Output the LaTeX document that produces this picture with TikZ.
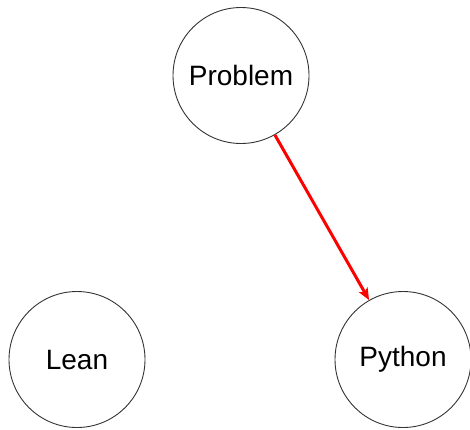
\documentclass[tikz,border=0pt]{standalone}
\usepackage{fontspec}
\setmainfont{Liberation Sans}
\usetikzlibrary{arrows.meta}
\begin{document}
\begin{tikzpicture}[x=1pt,y=-1pt,
  state/.style={circle,draw=black!80,line width=0.9pt,minimum size=136pt,inner sep=0pt,font=\fontsize{28}{32}\selectfont},
  link/.style={draw=red,line width=3pt,-{Stealth[length=12pt,width=10pt,inset=3pt]}}]
\useasboundingbox (0,0) rectangle (470,429);
\node[state] (problem) at (241,75.5) {Problem};
\node[state] (lean) at (77,359.5) {Lean};
\node[state] (python) at (403,359.5) {Python};
\draw[link] (problem) -- (python);
\end{tikzpicture}
\end{document}
